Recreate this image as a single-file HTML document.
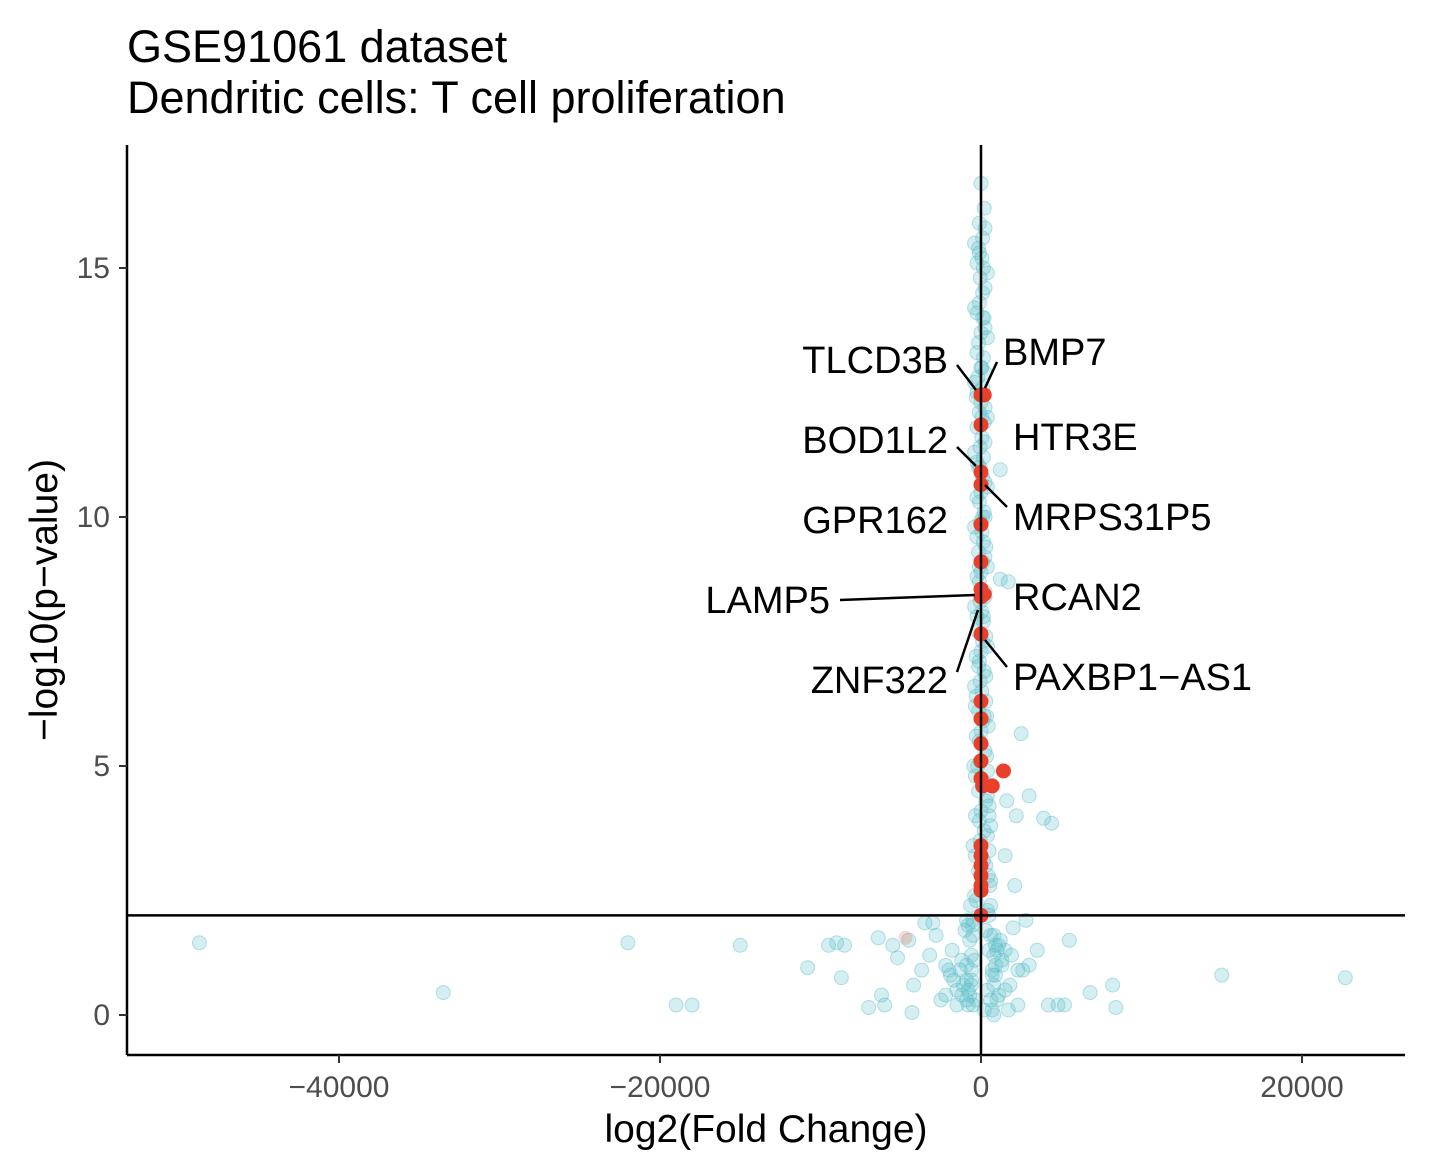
<!DOCTYPE html>
<html><head><meta charset="utf-8">
<style>
html,body{margin:0;padding:0;background:#fff;}
svg{display:block;font-family:"Liberation Sans",Arial,sans-serif;}
</style></head>
<body>
<svg id="chart" width="1448" height="1172" viewBox="0 0 1448 1172">
  <text x="127" y="62" font-size="45" fill="#000">GSE91061 dataset</text>
  <text x="127" y="113" font-size="45" fill="#000">Dendritic cells: T cell proliferation</text>
  <g id="points"></g>
  <g id="axes"></g>
  <g id="labels"></g>
  <text x="766" y="1142" font-size="39" text-anchor="middle" fill="#000">log2(Fold Change)</text>
  <text transform="translate(57,600) rotate(-90)" font-size="39" text-anchor="middle" fill="#000">−log10(p−value)</text>
</svg>
<script>
const xTicks=[-40000,-20000,0,20000];
const xTickLabels=["−40000","−20000","0","20000"];
const yTicks=[0,5,10,15];
const yTickLabels=["0","5","10","15"];
const pThreshold=2;
const outX=[-48700,-33500,-22000,-19000,-18000,-15000,-10800,-9500,-9000,-8700,-8500,-7000,-6400,-6200,-6000,-5500,-5200,-4500,-4300,-4200,-3700,-3500,-3000,-2800,-2500,-2000,-1500,-1200,-900,1000,1500,2000,2300,2800,3000,3500,4200,4800,5200,5500,6800,8200,8400,15000,22700,1200,1200,1700,1600,2200,2500,3000,4400,3900,800,900,1100,1300,600,700,1800,2600,-1800,-2200,-3200,-600,-800,1500,2100];
const outY=[1.45,0.45,1.45,0.2,0.2,1.4,0.95,1.4,1.45,0.75,1.4,0.15,1.55,0.4,0.2,1.4,1.15,1.5,0.05,0.6,0.9,1.85,1.85,1.6,0.3,0.9,0.5,1.1,0.7,0.3,1.3,1.75,0.2,1.9,1.0,1.3,0.2,0.2,0.2,1.5,0.45,0.6,0.15,0.8,0.75,10.95,8.75,8.7,4.3,4.0,5.65,4.4,3.85,3.95,1.2,0.8,0.4,1.0,1.6,0.1,0.6,0.9,1.3,0.4,1.2,0.9,0.5,3.2,2.6];
const colY=[16.7,16.2,15.9,15.6,15.4,15.2,15.0,14.8,14.5,14.3,14.0,13.7,13.5,13.2,13.0,12.8,12.6,12.3,12.1,11.9,11.6,11.4,11.2,11.0,10.8,10.5,10.3,10.1,9.9,9.7,9.5,9.3,9.1,8.9,8.7,8.5,8.3,8.1,7.9,7.7,7.5,7.3,7.1,6.9,6.7,6.5,6.3,6.1,5.9,5.7,5.5,5.3,5.1,4.9,4.7,4.5,4.3,4.1,3.9,3.7,3.5,3.3,3.1,2.9,2.7,2.5,2.3,2.1,1.9,1.7,1.5,1.3,1.1,0.9,0.7,0.5,0.3,0.1,2.2,1.8,1.4,1.0,0.6,0.2,3.0,4.0,5.0,6.0,7.0,8.0,9.0,10.0,11.0,12.0,13.0,14.0,15.3];
const colX=[0,200,-100,100,-150,50,150,-50,100,-100,200,0,-150,150,50,-200,100,0,-100,200,50,-50,150,-150,100,0,-100,200,-50,50,150,-150,100,0,-100,250,-50,50,150,-200,100,0,-100,200,-50,50,300,-150,100,0,-100,250,-50,400,150,-150,300,0,-100,200,-50,500,150,-150,600,0,-300,400,-500,300,-700,500,-400,700,-600,400,-300,200,600,-800,900,-900,800,-500,300,500,-200,200,-150,150,-100,100,-50,50,0,100,-100];
const denseY=[15.8,15.1,14.6,14.1,13.8,13.3,12.9,12.5,12.2,11.8,11.5,11.1,10.7,10.4,10.0,9.6,9.2,8.8,8.4,8.0,7.6,7.2,6.8,6.4,6.0,5.6,5.2,4.8,4.4,4.0,3.6,3.2,2.8,2.4,2.0,1.6,1.2,0.8,0.4,0.0,15.5,14.9,14.2,13.6,12.7,12.0,11.3,10.6,9.8,9.0,8.2,7.4,6.6,5.8,5.0,4.2,3.4,2.6,1.8,1.0,0.3,12.4,9.4,6.2,3.8,2.2,1.4,0.6,0.9,1.1,0.5,0.2,1.7,1.3,0.7,0.1,0.4,1.5,1.9,0.8,1.2,0.3,0.6,1.0,1.6,0.2,0.9];
const denseX=[250,-250,250,-250,250,-250,250,-250,250,-250,250,-250,250,-250,250,-250,250,-250,250,-250,300,-300,300,-300,350,-300,350,-350,400,-350,400,-350,450,-400,500,-500,-600,700,-700,800,-400,400,-400,400,-400,400,-400,400,-400,400,-400,400,-400,450,-450,500,-500,550,-550,900,-900,-300,300,-350,600,-650,1100,-1100,-1300,1300,1500,-1500,-1000,1000,-1700,1700,-1200,1200,-900,-1900,1900,600,-600,-2200,800,-800,2300];
const redX=[0,200,0,0,0,0,0,0,0,200,0,0,0,0,0,0,100,0,0,0,0,0,0,0,1400,700];
const redY=[12.45,12.45,11.85,10.9,10.65,9.85,9.1,8.4,8.55,8.45,7.65,6.3,5.95,5.45,5.1,4.75,4.6,3.4,3.2,3.0,2.8,2.6,2.5,2.0,4.9,4.6];
const labelNames=["TLCD3B","BMP7","BOD1L2","HTR3E","MRPS31P5","GPR162","LAMP5","RCAN2","ZNF322","PAXBP1−AS1"];

const X0=981,XS=(1302-981)/20000,Y0=1015,YS=(1015-766)/5;
const sx=v=>X0+v*XS, sy=v=>Y0-v*YS;
const NS="http://www.w3.org/2000/svg";
function mk(tag,attrs,parent){const e=document.createElementNS(NS,tag);for(const k in attrs)e.setAttribute(k,attrs[k]);parent.appendChild(e);return e;}
const pts=document.getElementById('points');
function teal(x,y){const c=mk('circle',{cx:sx(x),cy:sy(y),r:7,fill:'rgba(100,195,205,0.28)',stroke:'rgba(80,185,195,0.4)','stroke-width':1},pts);

}
outX.forEach((x,i)=>teal(x,outY[i]));
colX.forEach((x,i)=>teal(x,colY[i]));
denseX.forEach((x,i)=>teal(x,denseY[i]));
const fr=mk('circle',{cx:sx(-4700),cy:sy(1.55),r:7,fill:'rgba(232,64,42,0.2)'},pts);


redX.forEach((x,i)=>{const c=mk('circle',{cx:sx(x),cy:sy(redY[i]),r:7.5,fill:'#e8402a'},pts);

});

const ax=document.getElementById('axes');
mk('line',{x1:127,y1:1055,x2:1405,y2:1055,stroke:'#000','stroke-width':2.5},ax);
mk('line',{x1:127,y1:145,x2:127,y2:1055,stroke:'#000','stroke-width':2.5},ax);
mk('line',{x1:127,y1:sy(pThreshold),x2:1405,y2:sy(pThreshold),stroke:'#000','stroke-width':2.5},ax);
mk('line',{x1:sx(0),y1:145,x2:sx(0),y2:1055,stroke:'#000','stroke-width':2.5},ax);
xTicks.forEach((t,i)=>{mk('line',{x1:sx(t),y1:1055,x2:sx(t),y2:1063,stroke:'#333','stroke-width':2},ax);
const tx=mk('text',{x:sx(t),y:1097,'font-size':30,'text-anchor':'middle',fill:'#4d4d4d'},ax);tx.textContent=xTickLabels[i];

});
yTicks.forEach((t,i)=>{mk('line',{x1:119,y1:sy(t),x2:127,y2:sy(t),stroke:'#333','stroke-width':2},ax);
const tx=mk('text',{x:110,y:sy(t)+10,'font-size':30,'text-anchor':'end',fill:'#4d4d4d'},ax);tx.textContent=yTickLabels[i];

});

const lb=document.getElementById('labels');
const lpos=[[948,373,'end',[957,365,976,390]],[1003,365,'start',[997,362,985,388]],[948,453,'end',[957,447,976,466]],[1013,450,'start',null],[1013,530,'start',[1007,507,985,485]],[948,533,'end',null],[830,613,'end',[840,600,975,595]],[1013,610,'start',null],[948,693,'end',[957,672,978,610]],[1013,690,'start',[1007,667,985,640]]];
labelNames.forEach((n,i)=>{const p=lpos[i];
const t=mk('text',{x:p[0],y:p[1],'font-size':38,'text-anchor':p[2],fill:'#000'},lb);t.textContent=n;


if(p[3]){const l=mk('line',{x1:p[3][0],y1:p[3][1],x2:p[3][2],y2:p[3][3],stroke:'#000','stroke-width':2.5},lb);

}});
</script>
</body></html>
